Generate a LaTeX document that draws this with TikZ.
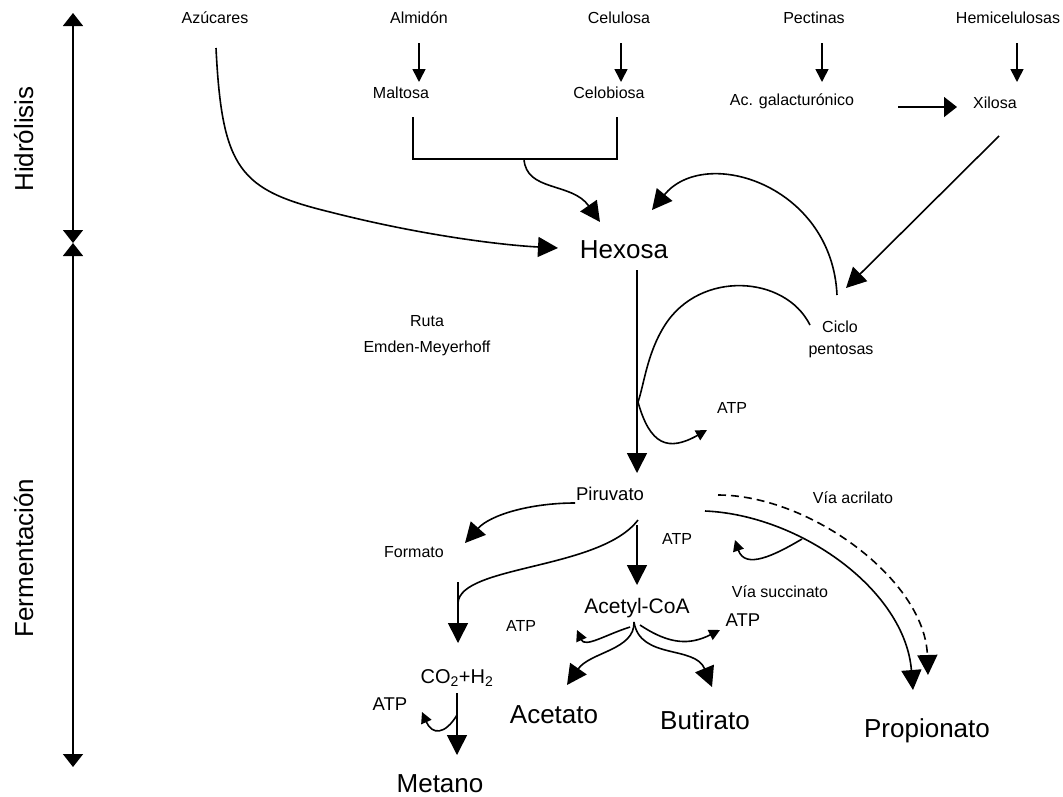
\documentclass[tikz,border=0pt]{standalone}
\usepackage{fontspec}
\setmainfont{Liberation Sans}
\usetikzlibrary{arrows.meta}

\begin{document}
\begin{tikzpicture}[x=1pt,y=-1pt,line width=1.6pt,
  small/.style={font=\fontsize{16}{19}\selectfont,inner sep=0pt,anchor=base},
  medium/.style={font=\fontsize{18.5}{22}\selectfont,inner sep=0pt,anchor=base},
  acoa/.style={font=\fontsize{21}{25}\selectfont,inner sep=0pt,anchor=base},
  large/.style={font=\fontsize{26}{31}\selectfont,inner sep=0pt,anchor=base},
  big tip/.style={-{Triangle[length=20pt,width=20pt]}},
  small tip/.style={-{Triangle[length=13pt,width=13pt]}},
  wide tip/.style={-{Triangle[length=13pt,width=20pt]}},
  atp tip/.style={-{Triangle[length=11pt,width=11pt]}},
  axis/.style={{Triangle[length=13pt,width=20pt]}-{Triangle[length=13pt,width=20pt]}}]
  \useasboundingbox (0,0) rectangle (1063,796);

  % stages
  \node[large,rotate=90] (hid) at (33,139) {Hidrólisis};
  \node[large,rotate=90] (fer) at (33,558) {Fermentación};
  \coordinate (ax top) at (73,13);
  \coordinate (ax mid) at (73,243);
  \coordinate (ax bot) at (73,767);
  \draw[axis] (ax top) -- (ax mid);
  \draw[axis] (ax mid) -- (ax bot);

  % hydrolysis
  \node[small] (azu) at (215,23) {Azúcares};
  \node[small] (alm) at (419,23) {Almidón};
  \node[small] (cel) at (619,23) {Celulosa};
  \node[small] (pec) at (814,23) {Pectinas};
  \node[small] (hem) at (1008,23) {Hemicelulosas};
  \node[small] (mal) at (401,98) {Maltosa};
  \node[small] (ceb) at (609,98) {Celobiosa};
  \node[small] (gal) at (792,105) {Ac. galacturónico};
  \node[small] (xil) at (995,108) {Xilosa};
  \node[large] (hex) at (624,258) {Hexosa};

  \coordinate (alm-out) at (419,43);  \coordinate (mal-in) at (419,82);
  \coordinate (cel-out) at (621,43);  \coordinate (ceb-in) at (621,82);
  \coordinate (pec-out) at (822,43);  \coordinate (gal-in) at (822,82);
  \coordinate (hem-out) at (1017,43); \coordinate (xil-in) at (1017,82);
  \path (alm-out) edge[small tip] (mal-in)
        (cel-out) edge[small tip] (ceb-in)
        (pec-out) edge[small tip] (gal-in)
        (hem-out) edge[small tip] (xil-in);

  \coordinate (gal-out) at (898,107); \coordinate (xil-w) at (957,107);
  \draw[wide tip] (gal-out) -- (xil-w);

  \coordinate (mal-b) at (413,117); \coordinate (br-l) at (413,159);
  \coordinate (ceb-b) at (617,117); \coordinate (br-r) at (617,159);
  \coordinate (br-c) at (524,159);
  \draw (mal-b) -- (br-l) -- (br-r) -- (ceb-b);

  \coordinate (azu-out) at (216,48); \coordinate (hex-w) at (558,248);
  \coordinate (hex-nw) at (600,222); \coordinate (hex-ne) at (652,210);
  \draw[big tip] (azu-out) .. controls (222,170) and (240,190) .. (330,212)
    .. controls (420,235) and (500,245) .. (hex-w);
  \draw[big tip] (br-c) .. controls (526,192) and (572,182) .. (hex-nw);

  % pentoses
  \node[small] (cic) at (840,332) {Ciclo};
  \node[small] (pen) at (841,354) {pentosas};
  \coordinate (xil-out) at (999,136); \coordinate (cic-in) at (846,288);
  \draw[big tip] (xil-out) -- (cic-in);
  \coordinate (cic-up) at (837,295);
  \draw[big tip] (cic-up) .. controls (832,185) and (705,145) .. (hex-ne);

  \node[small] (ruta) at (427,326) {Ruta};
  \node[small] (emb) at (427,352) {Emden-Meyerhoff};
  \node[small] (atp1) at (732,413) {ATP};

  % fermentation
  \node[medium] (pir) at (610,500) {Piruvato};
  \coordinate (hex-s) at (637,270); \coordinate (pir-n) at (637,473);
  \draw[big tip] (hex-s) -- (pir-n);
  \coordinate (cic-w) at (810,325); \coordinate (hex-line) at (638,402);
  \coordinate (atp1-in) at (707,430);
  \draw[atp tip] (cic-w) .. controls (785,275) and (700,270) .. (665,325)
    .. controls (647,353) and (644,385) .. (hex-line)
    .. controls (650,445) and (668,452) .. (atp1-in);

  \node[small] (form) at (414,557) {Formato};
  \node[small] (atp2) at (677,544) {ATP};
  \node[small] (acr) at (853,503) {Vía acrilato};
  \node[small] (suc) at (780,597) {Vía succinato};
  \node[acoa] (aco) at (637,613) {Acetyl-CoA};
  \node[small] (atp3) at (521,631) {ATP};
  \node[medium] (atp4) at (743,626) {ATP};
  \node[font=\fontsize{20}{24}\selectfont,inner sep=0pt,anchor=base] (co2) at (457,683) {CO\textsubscript{2}+H\textsubscript{2}};
  \node[medium] (atp5) at (390,710) {ATP};
  \node[large] (acet) at (554,723) {Acetato};
  \node[large] (but) at (705,729) {Butirato};
  \node[large] (met) at (440,792) {Metano};
  \node[large] (prop) at (927,737) {Propionato};

  \coordinate (pir-w) at (575,503); \coordinate (form-in) at (465,543);
  \draw[big tip] (pir-w) .. controls (530,503) and (490,515) .. (form-in);

  \coordinate (pir-s) at (638,520); \coordinate (co2-line) at (458,603);
  \coordinate (co2-top) at (458,582); \coordinate (co2-in) at (458,643);
  \draw (pir-s) .. controls (600,570) and (460,565) .. (co2-line);
  \draw[big tip] (co2-top) -- (co2-in);

  \coordinate (pir-s2) at (637,525); \coordinate (aco-in) at (637,585);
  \draw[big tip] (pir-s2) -- (aco-in);

  \coordinate (aco-sw) at (630,627); \coordinate (aco-s) at (634,622);
  \coordinate (aco-se) at (640,625);
  \coordinate (atp3-in) at (577,630); \coordinate (acet-in) at (567,685);
  \coordinate (but-in) at (712,687);  \coordinate (atp4-in) at (720,630);
  \draw[atp tip] (aco-sw) .. controls (605,635) and (585,648) .. (atp3-in);
  \draw[big tip] (aco-s) .. controls (635,650) and (590,652) .. (acet-in);
  \draw[big tip] (aco-s) .. controls (640,660) and (695,645) .. (but-in);
  \draw[atp tip] (aco-se) .. controls (670,645) and (690,645) .. (atp4-in);

  \coordinate (co2-s) at (457,693); \coordinate (met-n) at (457,755);
  \coordinate (met-line) at (457,715); \coordinate (atp5-in) at (422,712);
  \draw[big tip] (co2-s) -- (met-n);
  \draw[atp tip] (met-line) .. controls (445,735) and (432,735) .. (atp5-in);

  \coordinate (pir-e) at (705,511); \coordinate (prop-in) at (913,690);
  \coordinate (pir-ne) at (718,495); \coordinate (prop-in2) at (928,675);
  \coordinate (suc-out) at (802,539); \coordinate (suc-atp) at (735,540);
  \draw[big tip] (pir-e) .. controls (800,515) and (905,590) .. (prop-in);
  \draw[big tip,dash pattern=on 8pt off 5pt] (pir-ne) .. controls (810,495) and (925,580) .. (prop-in2);
  \draw[atp tip] (suc-out) .. controls (775,555) and (745,570) .. (suc-atp);
\end{tikzpicture}
\end{document}
